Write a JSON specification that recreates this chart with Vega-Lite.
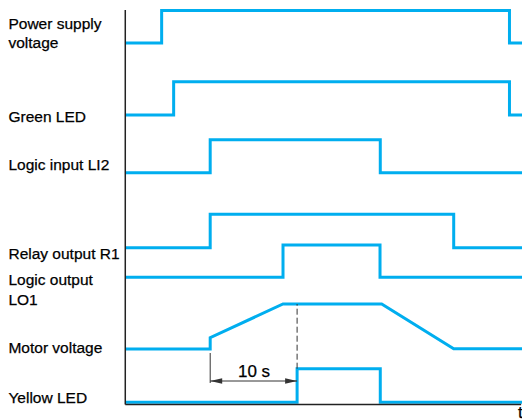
{
  "$schema": "https://vega.github.io/schema/vega-lite/v6.json",
  "width": 522,
  "height": 420,
  "padding": 0,
  "autosize": {"type": "none"},
  "config": {"view": {"stroke": null}},
  "datasets": {
    "signals": [
      {"signal": "Power", "i": 0, "t": 0, "v": 37.7},
      {"signal": "Power", "i": 1, "t": 4.18, "v": 37.7},
      {"signal": "Power", "i": 2, "t": 4.18, "v": 40.95},
      {"signal": "Power", "i": 3, "t": 44.16, "v": 40.95},
      {"signal": "Power", "i": 4, "t": 44.16, "v": 37.7},
      {"signal": "Power", "i": 5, "t": 45.6, "v": 37.7},
      {"signal": "Green", "i": 0, "t": 0, "v": 30.5},
      {"signal": "Green", "i": 1, "t": 5.56, "v": 30.5},
      {"signal": "Green", "i": 2, "t": 5.56, "v": 33.83},
      {"signal": "Green", "i": 3, "t": 44.16, "v": 33.83},
      {"signal": "Green", "i": 4, "t": 44.16, "v": 30.5},
      {"signal": "Green", "i": 5, "t": 45.6, "v": 30.5},
      {"signal": "LI2", "i": 0, "t": 0, "v": 24.73},
      {"signal": "LI2", "i": 1, "t": 9.76, "v": 24.73},
      {"signal": "LI2", "i": 2, "t": 9.76, "v": 28.03},
      {"signal": "LI2", "i": 3, "t": 29.31, "v": 28.03},
      {"signal": "LI2", "i": 4, "t": 29.31, "v": 24.73},
      {"signal": "LI2", "i": 5, "t": 45.6, "v": 24.73},
      {"signal": "R1", "i": 0, "t": 0, "v": 17.23},
      {"signal": "R1", "i": 1, "t": 9.76, "v": 17.23},
      {"signal": "R1", "i": 2, "t": 9.76, "v": 20.57},
      {"signal": "R1", "i": 3, "t": 37.75, "v": 20.57},
      {"signal": "R1", "i": 4, "t": 37.75, "v": 17.23},
      {"signal": "R1", "i": 5, "t": 45.6, "v": 17.23},
      {"signal": "LO1", "i": 0, "t": 0, "v": 14.27},
      {"signal": "LO1", "i": 1, "t": 18.13, "v": 14.27},
      {"signal": "LO1", "i": 2, "t": 18.13, "v": 17.5},
      {"signal": "LO1", "i": 3, "t": 29.28, "v": 17.5},
      {"signal": "LO1", "i": 4, "t": 29.28, "v": 14.27},
      {"signal": "LO1", "i": 5, "t": 45.6, "v": 14.27},
      {"signal": "Motor", "i": 0, "t": 0, "v": 7.1},
      {"signal": "Motor", "i": 1, "t": 9.76, "v": 7.1},
      {"signal": "Motor", "i": 2, "t": 9.76, "v": 8.23},
      {"signal": "Motor", "i": 3, "t": 18.13, "v": 11.6},
      {"signal": "Motor", "i": 4, "t": 29.47, "v": 11.6},
      {"signal": "Motor", "i": 5, "t": 37.75, "v": 7.13},
      {"signal": "Motor", "i": 6, "t": 45.6, "v": 7.13},
      {"signal": "Yellow", "i": 0, "t": 0, "v": 1.78},
      {"signal": "Yellow", "i": 1, "t": 19.75, "v": 1.78},
      {"signal": "Yellow", "i": 2, "t": 19.75, "v": 5.13},
      {"signal": "Yellow", "i": 3, "t": 29.31, "v": 5.13},
      {"signal": "Yellow", "i": 4, "t": 29.31, "v": 1.78},
      {"signal": "Yellow", "i": 5, "t": 45.6, "v": 1.78}
    ],
    "axes": [
      {"t": 0, "v": 1.55, "t2": 0, "v2": 41.0},
      {"t": 0, "v": 1.55, "t2": 45.5, "v2": 1.55}
    ],
    "solid": [
      {"t": 9.76, "v": 3.7, "t2": 9.76, "v2": 6.7},
      {"t": 9.76, "v": 3.9, "t2": 19.75, "v2": 3.9}
    ],
    "dashed": [
      {"t": 19.75, "v": 5.13, "t2": 19.75, "v2": 11.6}
    ],
    "heads": [
      {"t": 9.76, "v": 3.9, "dir": "left"},
      {"t": 19.75, "v": 3.9, "dir": "right"}
    ],
    "labels": [
      {"t": -13.43, "v": 39.1, "text": "Power supply"},
      {"t": -13.43, "v": 37.23, "text": "voltage"},
      {"t": -13.43, "v": 29.77, "text": "Green LED"},
      {"t": -13.43, "v": 25.0, "text": "Logic input LI2"},
      {"t": -13.43, "v": 16.13, "text": "Relay output R1"},
      {"t": -13.43, "v": 13.5, "text": "Logic output"},
      {"t": -13.43, "v": 11.5, "text": "LO1"},
      {"t": -13.43, "v": 6.73, "text": "Motor voltage"},
      {"t": -13.43, "v": 1.73, "text": "Yellow LED"}
    ],
    "notes": [
      {"t": 14.8, "v": 4.33, "text": "10 s"},
      {"t": 45.4, "v": 0.2, "text": "t"}
    ]
  },
  "layer": [
    {
      "data": {"name": "signals"},
      "mark": {"type": "line", "color": "#00AEEF", "strokeWidth": 3, "strokeJoin": "miter", "strokeCap": "butt", "clip": false},
      "encoding": {
        "x": {"field": "t", "type": "quantitative", "scale": {"domain": [-14.4, 45.6], "nice": false, "zero": false}, "axis": null},
        "y": {"field": "v", "type": "quantitative", "scale": {"domain": [0, 42], "nice": false, "zero": false}, "axis": null},
        "detail": {"field": "signal"},
        "order": {"field": "i", "type": "quantitative"}
      }
    },
    {
      "data": {"name": "axes"},
      "mark": {"type": "rule", "color": "#222222", "strokeWidth": 1.5},
      "encoding": {
        "x": {"field": "t", "type": "quantitative"},
        "y": {"field": "v", "type": "quantitative"},
        "x2": {"field": "t2"},
        "y2": {"field": "v2"}
      }
    },
    {
      "data": {"name": "solid"},
      "mark": {"type": "rule", "color": "#333333", "strokeWidth": 1},
      "encoding": {
        "x": {"field": "t", "type": "quantitative"},
        "y": {"field": "v", "type": "quantitative"},
        "x2": {"field": "t2"},
        "y2": {"field": "v2"}
      }
    },
    {
      "data": {"name": "dashed"},
      "mark": {"type": "rule", "color": "#333333", "strokeWidth": 1, "strokeDash": [6, 3]},
      "encoding": {
        "x": {"field": "t", "type": "quantitative"},
        "y": {"field": "v", "type": "quantitative"},
        "x2": {"field": "t2"},
        "y2": {"field": "v2"}
      }
    },
    {
      "data": {"name": "heads"},
      "transform": [{"filter": "datum.dir === 'left'"}],
      "mark": {"type": "point", "shape": "M0,0L1,-0.22L1,0.22Z", "size": 576, "filled": true, "color": "#333333", "opacity": 1, "strokeWidth": 0},
      "encoding": {
        "x": {"field": "t", "type": "quantitative"},
        "y": {"field": "v", "type": "quantitative"}
      }
    },
    {
      "data": {"name": "heads"},
      "transform": [{"filter": "datum.dir === 'right'"}],
      "mark": {"type": "point", "shape": "M0,0L-1,-0.22L-1,0.22Z", "size": 576, "filled": true, "color": "#333333", "opacity": 1, "strokeWidth": 0},
      "encoding": {
        "x": {"field": "t", "type": "quantitative"},
        "y": {"field": "v", "type": "quantitative"}
      }
    },
    {
      "data": {"name": "labels"},
      "mark": {"type": "text", "align": "left", "baseline": "alphabetic", "font": "Liberation Sans", "fontSize": 15.5, "color": "#000000", "stroke": "#000000", "strokeWidth": 0.25},
      "encoding": {
        "x": {"field": "t", "type": "quantitative"},
        "y": {"field": "v", "type": "quantitative"},
        "text": {"field": "text"}
      }
    },
    {
      "data": {"name": "notes"},
      "mark": {"type": "text", "align": "center", "baseline": "alphabetic", "font": "Liberation Sans", "fontSize": 17, "color": "#000000", "stroke": "#000000", "strokeWidth": 0.25},
      "encoding": {
        "x": {"field": "t", "type": "quantitative"},
        "y": {"field": "v", "type": "quantitative"},
        "text": {"field": "text"}
      }
    }
  ]
}
